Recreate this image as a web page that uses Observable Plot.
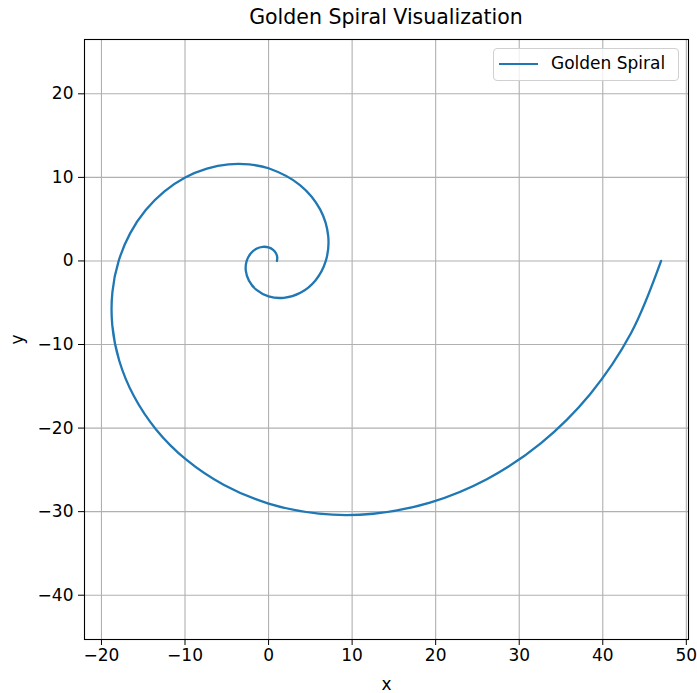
<!DOCTYPE html>
<html>
<head>
<meta charset="utf-8">
<script src="https://cdn.jsdelivr.net/npm/d3@7"></script>
<script src="https://cdn.jsdelivr.net/npm/@observablehq/plot@0.6"></script>
<style>
  html, body { margin: 0; padding: 0; background: #fff; }
  #wrap { position: relative; width: 697px; height: 693px; font-family: "DejaVu Sans", sans-serif; }
  #title { position: absolute; left: 86px; width: 600px; top: 5px; text-align: center; font-size: 20.5px; color: #000; }
  #legend { position: absolute; left: 493px; top: 48px; width: 186px; height: 33px; box-sizing: border-box;
            border: 1px solid #d0d0d0; border-radius: 4px; background: rgba(255,255,255,0.8); }
  #legend .sw { position: absolute; left: 5px; top: 13.5px; width: 39px; height: 2.4px; background: #1f77b4; }
  #legend .lb { position: absolute; left: 57px; top: 4px; font-size: 17px; color: #000; white-space: nowrap; }
</style>
</head>
<body>
<div id="wrap">
  <div id="chart"></div>
  <div id="title"></div>
  <div id="legend"><div class="sw"></div><div class="lb"></div></div>
</div>
<script>
// Spiral points
const xs = [1.00, 1.04, 0.90, 0.55, 0.00, -0.70, -1.46, -2.14, -2.62, -2.73, -2.35, -1.44, 0.00, 1.83, 3.81, 5.61,
            6.85, 7.14, 6.17, 3.76, 0.00, -2.30, -4.79, -7.38, -9.98, -12.46, -14.70, -16.57,
            -17.94, -18.69, -18.70, -17.87, -16.14, -13.47, -9.85, -5.33,
            0.00, 6.02, 12.53, 19.32, 26.12, 32.61, 38.48, 43.39, 46.98];
const ys = [0.00, 0.43, 0.90, 1.33, 1.62, 1.69, 1.46, 0.89, 0.00, -1.13, -2.35, -3.47, -4.24, -4.41, -3.81, -2.33,
            0.00, 2.96, 6.17, 9.08, 11.09, 11.55, 11.56, 11.04, 9.98, 8.32, 6.09, 3.30,
            0.00, -3.72, -7.74, -11.94, -16.14, -20.16, -23.78, -26.81,
            -29.03, -30.24, -30.25, -28.92, -26.12, -21.79, -15.94, -8.63, 0.00];
const xTicks = [-20, -10, 0, 10, 20, 30, 40, 50];
const yTicks = [-40, -30, -20, -10, 0, 10, 20];
const titleText = "Golden Spiral Visualization";
const seriesName = "Golden Spiral";
const xLabel = "x";
const yLabel = "y";

const data = xs.map((x, i) => ({x, y: ys[i]}));

const chart = Plot.plot({
  width: 697,
  height: 693,
  marginLeft: 84,
  marginRight: 9,
  marginTop: 39,
  marginBottom: 54,
  style: {fontFamily: "DejaVu Sans, sans-serif", fontSize: "17px", color: "#000", background: "#fff"},
  x: {domain: [-22.03, 50.26]},
  y: {domain: [-45.3, 26.5]},
  marks: [
    Plot.gridX(xTicks, {stroke: "#b0b0b0", strokeOpacity: 1, strokeWidth: 1.1}),
    Plot.gridY(yTicks, {stroke: "#b0b0b0", strokeOpacity: 1, strokeWidth: 1.1}),
    Plot.line(data, {x: "x", y: "y", stroke: "#1f77b4", strokeWidth: 2.3, curve: "catmull-rom"}),
    Plot.frame({stroke: "#000", strokeWidth: 1.1}),
    Plot.axisX({ticks: xTicks, tickSize: 6, tickPadding: 3, fontSize: 17, stroke: "#000",
                label: xLabel, labelAnchor: "center", labelArrow: false, labelOffset: 50}),
    Plot.axisY({ticks: yTicks, tickSize: 6, tickPadding: 5, fontSize: 17, stroke: "#000",
                label: yLabel, labelAnchor: "center", labelArrow: false, labelOffset: 74})
  ]
});
document.getElementById("chart").appendChild(chart);
document.getElementById("title").textContent = titleText;
document.querySelector("#legend .lb").textContent = seriesName;
</script>
</body>
</html>
